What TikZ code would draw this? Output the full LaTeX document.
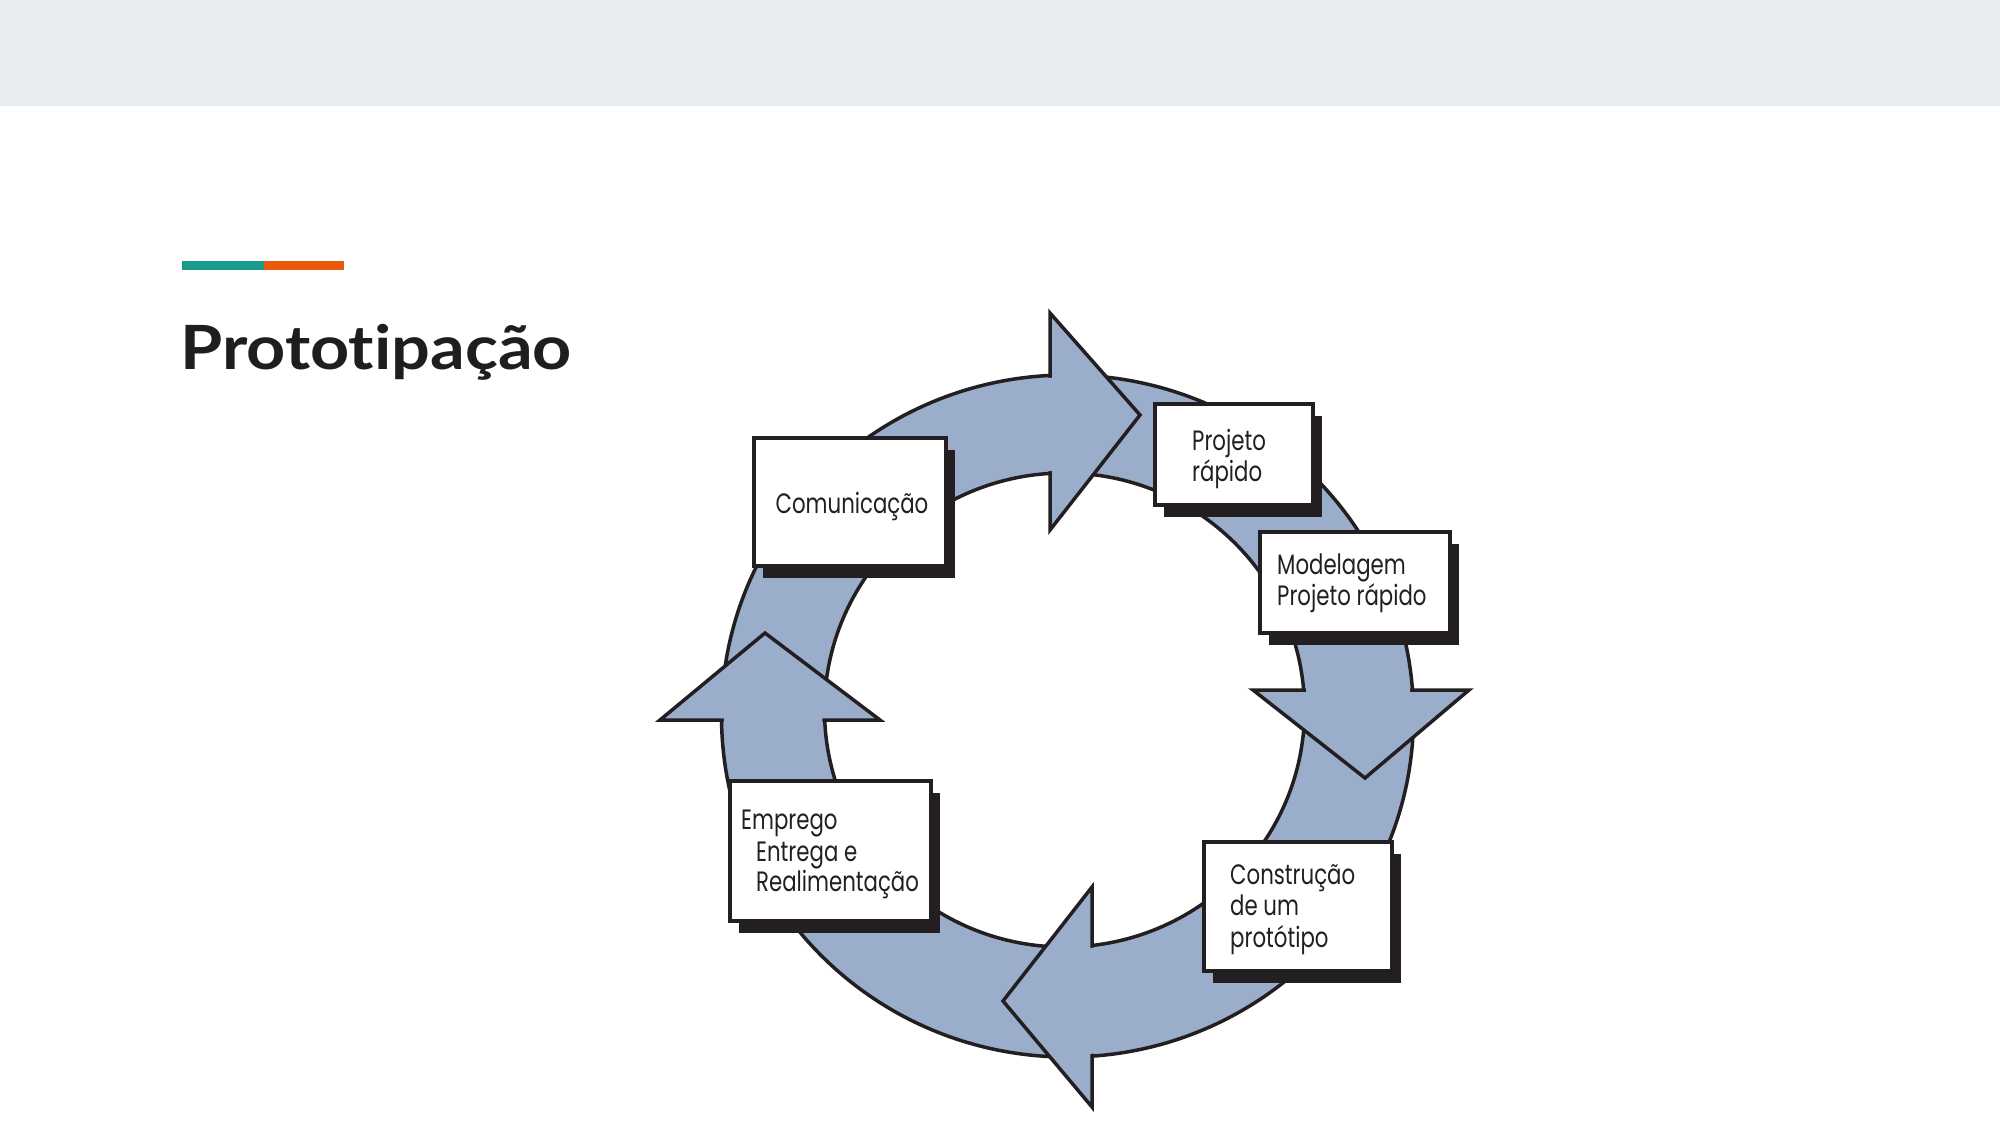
\documentclass[tikz,border=0pt]{standalone}
\usepackage{fontspec}
\setmainfont{Lato}
\newfontfamily\boxfont[FakeStretch=0.76]{Poppins}
\newfontfamily\titlefont[FakeStretch=1.12,RawFeature=-liga]{Lato}
\usetikzlibrary{shadows}
\definecolor{headergray}{HTML}{E8ECEE}
\definecolor{barteal}{HTML}{1A9A8A}
\definecolor{barorange}{HTML}{EA5A0B}
\definecolor{titleblack}{HTML}{1E1E1E}
\definecolor{ringblue}{HTML}{9AADCB}
\definecolor{lineblack}{HTML}{231F20}
\newcommand\myouterring{(1067.5,716) ellipse[x radius=346pt,y radius=341pt]}
\newcommand\myinnerring{(1064.5,710) ellipse[x radius=240pt,y radius=237pt]}
\newcommand\mypatchband{(1067.5,716) ellipse[x radius=343.6pt,y radius=338.6pt] (1064.5,710) ellipse[x radius=242.4pt,y radius=239.4pt]}
\begin{document}
\begin{tikzpicture}[x=1pt,y=-1pt,
  outline/.style={draw=lineblack,line width=3.5pt},
  head/.style={fill=ringblue,draw=lineblack,line width=3.5pt,line join=miter},
  boxnode/.style={draw=lineblack,fill=white,line width=4pt,inner sep=0pt,
    drop shadow={shadow xshift=9pt,shadow yshift=-12pt,opacity=1,fill=lineblack}},
  boxtext/.style={inner sep=0pt,anchor=base west,text=lineblack,font=\boxfont\fontsize{28}{31}\selectfont}]
\useasboundingbox (0,0) rectangle (2000,1125);
% header band and title
\fill[headergray] (0,0) rectangle (2000,106);
\fill[barteal] (182,261) rectangle (264,270);
\fill[barorange] (264,261) rectangle (344,270);
\node[anchor=base west,inner sep=0pt,text=titleblack,font=\titlefont\bfseries\fontsize{61}{70}\selectfont] (title) at (180,369) {Prototipação};
% ring
\path[fill=ringblue,even odd rule] \myouterring \myinnerring;
\draw[outline] \myouterring;
\draw[outline] \myinnerring;
% arrow heads
\path[head] (1050,313) -- (1140,415) -- (1050,530) -- cycle;
\path[head] (1469,690) -- (1365,778) -- (1253,690) -- cycle;
\path[head] (1092,887) -- (1003,1001) -- (1092,1107) -- cycle;
\path[head] (660,720) -- (765,633) -- (880,720) -- cycle;
% join arrow heads to the band
\begin{scope}\clip (1045,340) rectangle (1055,500); \fill[ringblue,even odd rule] \mypatchband; \end{scope}
\begin{scope}\clip (1230,685) rectangle (1490,695); \fill[ringblue,even odd rule] \mypatchband; \end{scope}
\begin{scope}\clip (1087,900) rectangle (1097,1090); \fill[ringblue,even odd rule] \mypatchband; \end{scope}
\begin{scope}\clip (690,715) rectangle (900,725); \fill[ringblue,even odd rule] \mypatchband; \end{scope}
% boxes
\node[boxnode,minimum width=192pt,minimum height=128pt] (com) at (850,502) {};
\node[boxnode,minimum width=158pt,minimum height=101pt] (proj) at (1234,454.5) {};
\node[boxnode,minimum width=190pt,minimum height=101pt] (model) at (1355,582.5) {};
\node[boxnode,minimum width=188pt,minimum height=129pt] (constr) at (1298,906.5) {};
\node[boxnode,minimum width=201pt,minimum height=140pt] (empr) at (830.5,851) {};
% texts
\node[boxtext,anchor=base] (t1) at (852,513) {Comunicação};
\node[boxtext] (t2a) at (1192,450) {Projeto};
\node[boxtext] (t2b) at (1192,481) {rápido};
\node[boxtext] (t3a) at (1277,574) {Modelagem};
\node[boxtext] (t3b) at (1277,605) {Projeto rápido};
\node[boxtext] (t4a) at (1230,884) {Construção};
\node[boxtext] (t4b) at (1230,915) {de um};
\node[boxtext] (t4c) at (1230,947) {protótipo};
\node[boxtext] (t5a) at (741,829) {Emprego};
\node[boxtext] (t5b) at (756,861) {Entrega e};
\node[boxtext] (t5c) at (756,891) {Realimentação};
\end{tikzpicture}
\end{document}
